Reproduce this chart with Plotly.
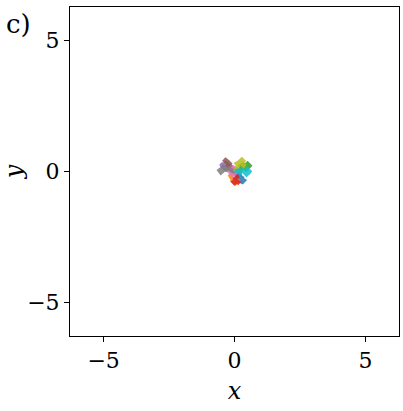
import plotly.graph_objects as go

colors = ["#1f77b4", "#ff7f0e", "#2ca02c", "#d62728", "#9467bd",
          "#8c564b", "#e377c2", "#7f7f7f", "#bcbd22", "#17becf"]

traj_x = [
    [0.00, 0.10, 0.18, 0.12, 0.24, 0.32, 0.26, 0.36, 0.30, 0.18, 0.10, 0.02],
    [0.00, -0.08, -0.16, -0.10, -0.02, 0.06, 0.02, -0.06, 0.04, 0.12, 0.06, -0.04],
    [0.00, 0.12, 0.22, 0.30, 0.22, 0.32, 0.42, 0.50, 0.58, 0.52, 0.44, 0.36],
    [0.00, 0.06, 0.10, 0.02, 0.08, 0.00, -0.06, 0.02, -0.04, 0.06, 0.14, 0.20],
    [0.00, -0.12, -0.22, -0.30, -0.36, -0.26, -0.34, -0.44, -0.52, -0.46, -0.38, -0.30],
    [0.00, -0.06, -0.14, -0.22, -0.30, -0.36, -0.42, -0.34, -0.26, -0.18, -0.24, -0.30],
    [0.00, 0.06, -0.04, -0.12, -0.06, 0.04, -0.06, -0.14, -0.20, -0.12, -0.04, 0.06],
    [0.00, -0.12, -0.22, -0.32, -0.42, -0.50, -0.58, -0.52, -0.44, -0.36, -0.42, -0.50],
    [0.00, 0.08, 0.14, 0.08, 0.18, 0.26, 0.34, 0.28, 0.20, 0.28, 0.36, 0.30],
    [0.00, 0.14, 0.22, 0.30, 0.40, 0.48, 0.56, 0.62, 0.54, 0.46, 0.38, 0.30],
]
traj_y = [
    [0.00, -0.06, -0.12, -0.20, -0.26, -0.18, -0.28, -0.34, -0.40, -0.34, -0.26, -0.32],
    [0.00, -0.08, -0.16, -0.26, -0.32, -0.38, -0.44, -0.36, -0.28, -0.34, -0.42, -0.36],
    [0.00, 0.06, 0.02, 0.12, 0.20, 0.28, 0.22, 0.30, 0.22, 0.14, 0.08, 0.16],
    [0.00, -0.12, -0.20, -0.28, -0.36, -0.44, -0.38, -0.46, -0.40, -0.34, -0.42, -0.36],
    [0.00, 0.06, 0.14, 0.08, 0.18, 0.26, 0.32, 0.24, 0.30, 0.20, 0.12, 0.18],
    [0.00, 0.10, 0.20, 0.28, 0.34, 0.42, 0.36, 0.44, 0.38, 0.30, 0.22, 0.28],
    [0.00, 0.10, 0.16, 0.10, 0.02, -0.06, -0.14, -0.08, 0.00, 0.08, 0.02, -0.06],
    [0.00, 0.04, 0.12, 0.08, 0.16, 0.10, 0.04, -0.04, 0.02, 0.10, 0.18, 0.12],
    [0.00, 0.12, 0.22, 0.30, 0.36, 0.32, 0.40, 0.46, 0.38, 0.30, 0.24, 0.16],
    [0.00, 0.04, -0.04, 0.06, 0.00, 0.08, -0.02, 0.06, -0.06, -0.12, -0.04, 0.04],
]

fig = go.Figure()
for i in range(len(traj_x)):
    fig.add_trace(go.Scatter(x=traj_x[i], y=traj_y[i], mode="lines",
                             line=dict(color=colors[i], width=4),
                             opacity=0.85, showlegend=False, hoverinfo="skip"))

font = "DejaVu Serif"
axis_common = dict(range=[-6.2832, 6.2832], tickvals=[-5, 0, 5], automargin=False,
                   showgrid=False, zeroline=False, showline=True, mirror=True,
                   linecolor="black", linewidth=1, ticks="outside", ticklen=5,
                   tickcolor="black", tickfont=dict(family=font, size=22, color="black"))
fig.update_layout(
    width=403, height=411,
    margin=dict(l=70, r=4, t=7, b=75),
    plot_bgcolor="white", paper_bgcolor="white",
    xaxis=dict(**axis_common, title=dict(text="<i>x</i>", font=dict(family=font, size=24, color="black"), standoff=9)),
    yaxis=dict(**axis_common, title=dict(text="<i>y</i>", font=dict(family=font, size=24, color="black"), standoff=21)),
    annotations=[dict(text="c)", x=-0.2, y=1.0, xref="paper", yref="paper",
                      xanchor="left", yanchor="top", showarrow=False,
                      font=dict(family=font, size=26, color="black"))],
)
fig.write_html("out.html", config={"responsive": False, "displayModeBar": False},
               post_script="document.body.style.margin='0';document.body.style.overflow='hidden';")
